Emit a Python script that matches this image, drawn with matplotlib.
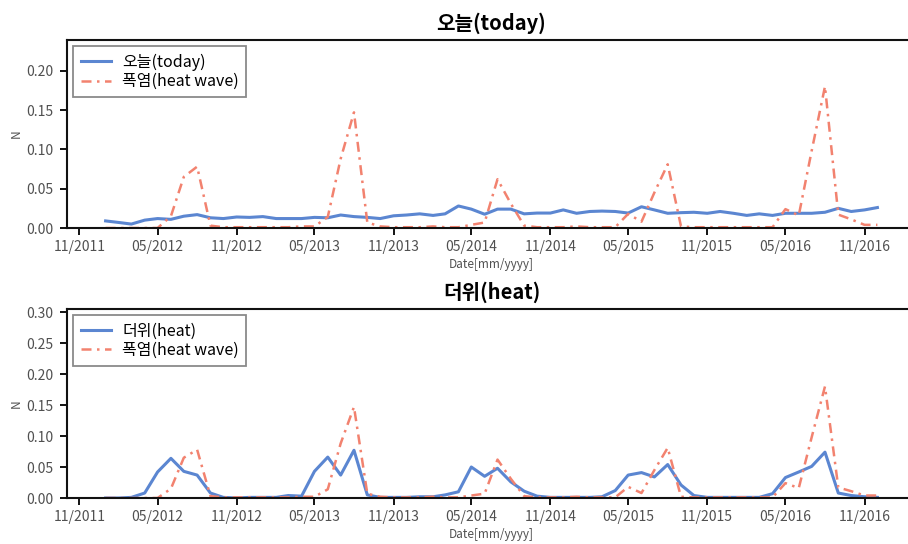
import numpy as np
import pandas as pd
import matplotlib
matplotlib.use("Agg")
import matplotlib.pyplot as plt
import matplotlib.dates as mdates

plt.rcParams['font.family'] = ['Noto Sans CJK KR', 'DejaVu Sans']

# Monthly relative frequencies, Jan 2012 - Dec 2016
months = pd.date_range("2012-01-01", "2016-12-01", freq="MS")

heatwave = [
    0.000, 0.000, 0.000, 0.000, 0.000, 0.015, 0.065, 0.078, 0.003, 0.001, 0.001, 0.001,
    0.001, 0.001, 0.001, 0.002, 0.002, 0.014, 0.088, 0.147, 0.007, 0.002, 0.001, 0.001,
    0.001, 0.002, 0.001, 0.001, 0.004, 0.007, 0.062, 0.031, 0.003, 0.001, 0.001, 0.001,
    0.002, 0.001, 0.001, 0.001, 0.018, 0.008, 0.045, 0.081, 0.002, 0.001, 0.001, 0.001,
    0.001, 0.001, 0.001, 0.001, 0.024, 0.016, 0.098, 0.180, 0.017, 0.011, 0.004, 0.004,
]

today = [
    0.009, 0.007, 0.005, 0.010, 0.012, 0.011, 0.015, 0.017, 0.013, 0.012, 0.014, 0.0135,
    0.0145, 0.012, 0.012, 0.012, 0.0135, 0.013, 0.0165, 0.0145, 0.0135, 0.012, 0.0155, 0.0165,
    0.018, 0.016, 0.018, 0.028, 0.024, 0.0175, 0.024, 0.024, 0.018, 0.019, 0.019, 0.023,
    0.0187, 0.021, 0.0215, 0.021, 0.019, 0.027, 0.023, 0.0187, 0.0195, 0.020, 0.0187, 0.021,
    0.0187, 0.016, 0.018, 0.016, 0.0187, 0.0187, 0.0187, 0.020, 0.025, 0.021, 0.023, 0.026,
]

heat = [
    0.000, 0.000, 0.001, 0.008, 0.042, 0.064, 0.043, 0.037, 0.008, 0.001, 0.000, 0.001,
    0.001, 0.001, 0.004, 0.003, 0.043, 0.066, 0.037, 0.077, 0.005, 0.001, 0.001, 0.001,
    0.002, 0.002, 0.005, 0.010, 0.050, 0.035, 0.048, 0.026, 0.011, 0.003, 0.001, 0.001,
    0.001, 0.001, 0.002, 0.012, 0.037, 0.041, 0.034, 0.054, 0.021, 0.004, 0.001, 0.001,
    0.001, 0.001, 0.001, 0.007, 0.033, 0.042, 0.051, 0.074, 0.008, 0.004, 0.002, 0.001,
]

panels = [
    ("오늘(today)", today, 0.239, [0.00, 0.05, 0.10, 0.15, 0.20]),
    ("더위(heat)", heat, 0.305, [0.00, 0.05, 0.10, 0.15, 0.20, 0.25, 0.30]),
]

BLUE = "#5B86D1"
RED = "#F2826F"
GREY = "#505050"

W, H = 908, 544
fig = plt.figure(figsize=(W / 100, H / 100), dpi=100)

# axes boxes in pixels: (left, top, right, bottom)
boxes = [(67, 40, 916, 228), (67, 309, 916, 498)]

for (title, series, ytop, yticks), (l, t, r, b) in zip(panels, boxes):
    ax = fig.add_axes([l / W, 1 - b / H, (r - l) / W, (b - t) / H])
    ax.plot(months, series, color=BLUE, lw=2.2, label=title)
    ax.plot(months, heatwave, color=RED, lw=1.8,
            linestyle=(0, (4, 2.2, 1, 2.2)), label="폭염(heat wave)")
    ax.set_ylim(0, ytop)
    ax.set_yticks(yticks)
    ax.yaxis.set_major_formatter(matplotlib.ticker.FormatStrFormatter('%.2f'))
    ax.xaxis.set_major_locator(mdates.MonthLocator(bymonth=[5, 11]))
    ax.xaxis.set_major_formatter(mdates.DateFormatter('%m/%Y'))
    ax.tick_params(axis='both', labelsize=10, labelcolor=GREY, color='black',
                   width=1.3, length=5, direction='out')
    ax.tick_params(axis='y', pad=5)
    for side in ['left', 'bottom', 'top']:
        ax.spines[side].set_linewidth(1.5)
        ax.spines[side].set_color('#111111')
    ax.spines['right'].set_visible(False)
    ax.set_title(title, fontsize=14.5, fontweight='bold', pad=7)
    ax.set_ylabel("N", fontsize=8.5, color=GREY, labelpad=2)
    ax.set_xlabel("Date[mm/yyyy]", fontsize=8.5, color=GREY, labelpad=3)
    leg = ax.legend(loc='upper left', fontsize=11.5, fancybox=False,
                    edgecolor='#8a8a8a', framealpha=1, borderaxespad=0.4,
                    handlelength=1.9, handletextpad=0.7, labelspacing=0.15,
                    borderpad=0.45)
    leg.get_frame().set_linewidth(1.3)

fig.savefig("out.png", dpi=100)
